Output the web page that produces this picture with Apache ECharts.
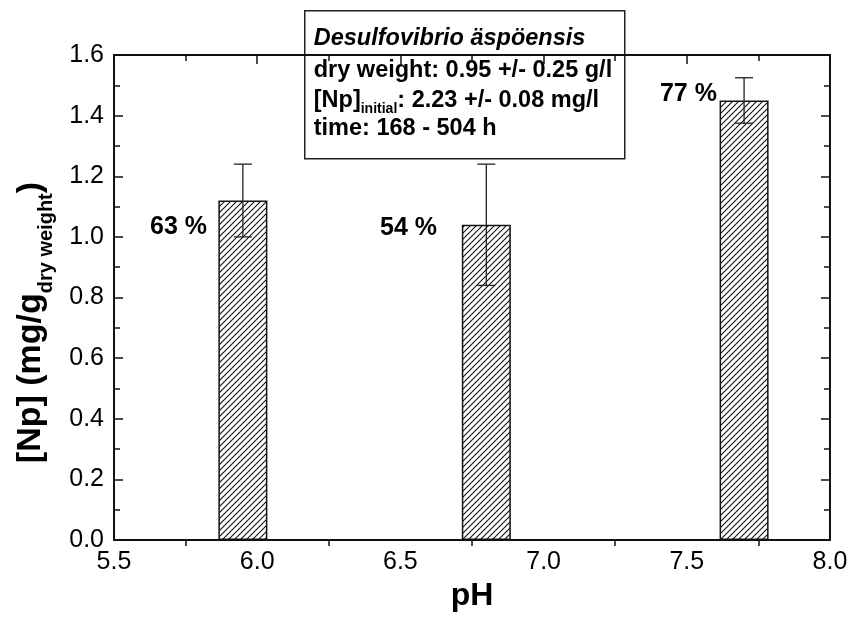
<!DOCTYPE html>
<html>
<head>
<meta charset="utf-8">
<script src="https://cdn.jsdelivr.net/npm/echarts@6/dist/echarts.min.js"></script>
<style>
  html, body { margin: 0; padding: 0; background: #fff; }
  #chart { width: 851px; height: 617px; }
</style>
</head>
<body>
<div id="chart"></div>
<script>
// Np uptake by Desulfovibrio äspöensis at three pH values
const phValues = [5.95, 6.8, 7.7];
const npValues = [1.12, 1.04, 1.45];
const npErrors = [0.12, 0.20, 0.075];
const uptakeLabels = ['63 %', '54 %', '77 %'];
// where each percentage label is anchored (right end, vertical middle), in pH / mg/g
const labelPh = [5.825, 6.628, 7.605];
const labelNp = [1.031, 1.028, 1.471];

const xTicks = { min: 5.5, max: 8.0, step: 0.5 };
const yTicks = { min: 0.0, max: 1.6, step: 0.2 };

const FONT = 'Liberation Sans, Arial, sans-serif';

// diagonal hatch fill for the bars
function hatchPattern() {
  const s = 6;
  const c = document.createElement('canvas');
  c.width = s; c.height = s;
  const g = c.getContext('2d');
  g.fillStyle = '#fff';
  g.fillRect(0, 0, s, s);
  g.strokeStyle = '#111';
  g.lineWidth = 1.1;
  g.beginPath();
  g.moveTo(-1, s + 1); g.lineTo(s + 1, -1);
  g.moveTo(-1, 1); g.lineTo(1, -1);
  g.moveTo(s - 1, s + 1); g.lineTo(s + 1, s - 1);
  g.stroke();
  return c;
}

const chart = echarts.init(document.getElementById('chart'), null, { renderer: 'canvas' });

const tickFmt = v => v.toFixed(1);

function axisCommon(min, max, step) {
  return {
    type: 'value', min: min, max: max, interval: step,
    axisLine: { show: true, onZero: false, lineStyle: { color: '#111', width: 2 } },
    axisTick: { show: true, inside: true, length: 9, lineStyle: { color: '#111', width: 1.5 } },
    minorTick: { show: true, splitNumber: 2, length: 6, lineStyle: { color: '#111', width: 1.5 } },
    splitLine: { show: false },
    minorSplitLine: { show: false }
  };
}

const option = {
  animation: false,
  backgroundColor: '#fff',
  grid: { left: 114, right: 21, top: 55, bottom: 64, containLabel: false },
  xAxis: [
    Object.assign(axisCommon(xTicks.min, xTicks.max, xTicks.step), {
      position: 'bottom',
      axisTick: { show: false },
      name: 'pH', nameLocation: 'middle', nameGap: 28,
      nameTextStyle: { fontFamily: FONT, fontWeight: 'bold', fontSize: 32, color: '#000' },
      axisLabel: { formatter: tickFmt, margin: 10, fontFamily: FONT, fontSize: 25, color: '#000' }
    }),
    Object.assign(axisCommon(xTicks.min, xTicks.max, xTicks.step), {
      position: 'top', axisLabel: { show: false }
    })
  ],
  yAxis: [
    Object.assign(axisCommon(yTicks.min, yTicks.max, yTicks.step), {
      position: 'left',
      name: '{a|[Np] (mg/g}{s|dry weight}{a|)}',
      nameLocation: 'middle', nameRotate: 90, nameGap: 58,
      nameTextStyle: {
        padding: [0, 50, 0, 0],
        rich: {
          a: { fontFamily: FONT, fontWeight: 'bold', fontSize: 34, lineHeight: 50, color: '#000' },
          s: { fontFamily: FONT, fontWeight: 'bold', fontSize: 20, lineHeight: 20, verticalAlign: 'bottom', color: '#000' }
        }
      },
      axisLabel: { formatter: tickFmt, margin: 10, fontFamily: FONT, fontSize: 25, color: '#000' }
    }),
    Object.assign(axisCommon(yTicks.min, yTicks.max, yTicks.step), {
      position: 'right', axisLabel: { show: false }
    })
  ],
  series: [
    {
      type: 'bar',
      xAxisIndex: 0, yAxisIndex: 0,
      barWidth: 49,
      data: phValues.map((x, i) => [x, npValues[i]]),
      itemStyle: {
        color: { image: hatchPattern(), repeat: 'repeat' },
        borderColor: '#111', borderWidth: 1.5
      },
      z: 2
    },
    {
      type: 'custom',
      xAxisIndex: 0, yAxisIndex: 0,
      data: phValues.map((x, i) => [x, npValues[i] - npErrors[i], npValues[i] + npErrors[i]]),
      renderItem: function (params, api) {
        const lo = api.coord([api.value(0), api.value(1)]);
        const hi = api.coord([api.value(0), api.value(2)]);
        const half = 9;
        const st = { stroke: '#222', lineWidth: 1.3, fill: null };
        return {
          type: 'group',
          children: [
            { type: 'line', shape: { x1: hi[0], y1: hi[1], x2: lo[0], y2: lo[1] }, style: st },
            { type: 'line', shape: { x1: hi[0] - half, y1: hi[1], x2: hi[0] + half, y2: hi[1] }, style: st },
            { type: 'line', shape: { x1: lo[0] - half, y1: lo[1], x2: lo[0] + half, y2: lo[1] }, style: st }
          ]
        };
      },
      z: 5
    },
    {
      // uptake percentages written beside the bars
      type: 'custom',
      xAxisIndex: 0, yAxisIndex: 0,
      data: labelPh.map((x, i) => [x, labelNp[i], i]),
      renderItem: function (params, api) {
        const p = api.coord([api.value(0), api.value(1)]);
        return {
          type: 'text',
          x: p[0], y: p[1],
          style: {
            text: uptakeLabels[api.value(2)],
            font: 'bold 25px ' + FONT,
            fill: '#000',
            align: 'right', verticalAlign: 'middle'
          }
        };
      },
      silent: true,
      z: 6
    }
  ],
  graphic: [
    {
      type: 'group', left: 304, top: 10, z: 100,
      children: [
        { type: 'rect', shape: { x: 0, y: 0, width: 320, height: 148 },
          style: { fill: '#fff', stroke: '#222', lineWidth: 1.5 } },
        { type: 'text', x: 9, y: 28,
          style: { text: 'Desulfovibrio äspöensis', font: 'italic bold 23.5px ' + FONT, fill: '#000', verticalAlign: 'middle' } },
        { type: 'text', x: 9, y: 60,
          style: { text: 'dry weight: 0.95 +/- 0.25 g/l', font: 'bold 23.5px ' + FONT, fill: '#000', verticalAlign: 'middle' } },
        { type: 'text', x: 9, y: 75,
          style: {
            text: '{a|[Np]}{s|initial}{a|: 2.23 +/- 0.08 mg/l}',
            rich: {
              a: { fontFamily: FONT, fontWeight: 'bold', fontSize: 23.5, lineHeight: 30, fill: '#000' },
              s: { fontFamily: FONT, fontWeight: 'bold', fontSize: 14, lineHeight: 14, verticalAlign: 'bottom', fill: '#000' }
            },
            verticalAlign: 'top'
          } },
        { type: 'text', x: 9, y: 118,
          style: { text: 'time: 168 - 504 h', font: 'bold 23.5px ' + FONT, fill: '#000', verticalAlign: 'middle' } }
      ]
    }
  ]
};

chart.setOption(option);
</script>
</body>
</html>
